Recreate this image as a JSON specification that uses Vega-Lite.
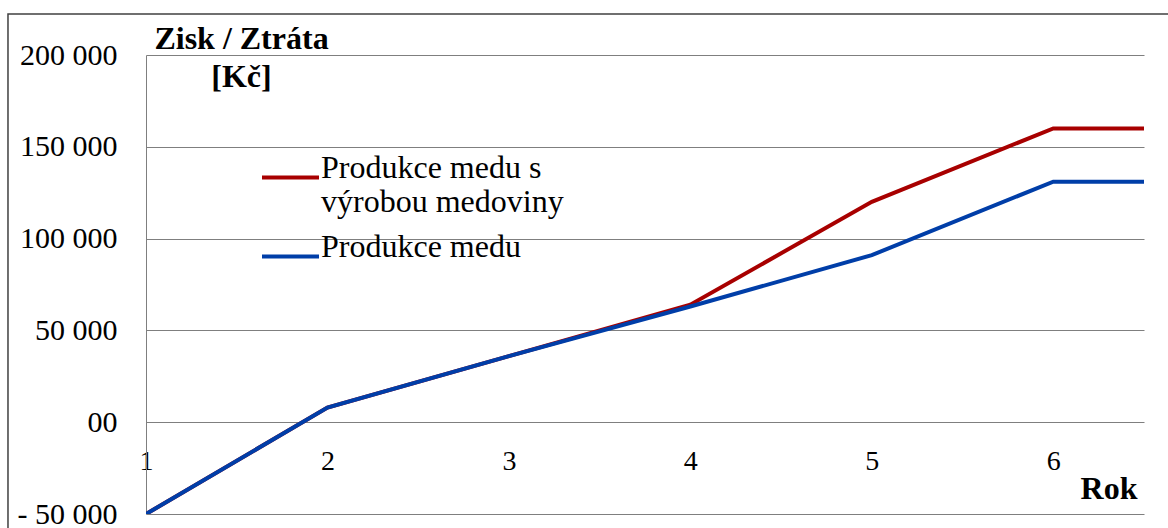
{
  "$schema": "https://vega.github.io/schema/vega-lite/v6.json",
  "width": 998,
  "height": 459,
  "autosize": {"type": "none"},
  "padding": {"left": 146, "top": 55, "right": 24, "bottom": 14},
  "background": "white",
  "config": {"view": {"stroke": null}, "font": "Liberation Serif"},
  "resolve": {"axis": {"x": "independent", "y": "independent"}},
  "layer": [
    {
      "data": {"values": [{"frame": "outer"}]},
      "mark": {"type": "rect", "fill": null, "stroke": "#404040", "strokeWidth": 1.5, "clip": false},
      "encoding": {
        "x": {"datum": 0.2394, "type": "quantitative", "axis": null},
        "x2": {"datum": 7.2},
        "y": {"datum": 222331, "type": "quantitative", "axis": null},
        "y2": {"datum": -80000}
      }
    },
    {
      "data": {
        "values": [
          {"rok": 1, "zisk": -50000, "serie": "Produkce medu s výrobou medoviny"},
          {"rok": 2, "zisk": 8000, "serie": "Produkce medu s výrobou medoviny"},
          {"rok": 3, "zisk": 36000, "serie": "Produkce medu s výrobou medoviny"},
          {"rok": 4, "zisk": 64000, "serie": "Produkce medu s výrobou medoviny"},
          {"rok": 5, "zisk": 120000, "serie": "Produkce medu s výrobou medoviny"},
          {"rok": 6, "zisk": 160000, "serie": "Produkce medu s výrobou medoviny"},
          {"rok": 6.5, "zisk": 160000, "serie": "Produkce medu s výrobou medoviny"},
          {"rok": 1, "zisk": -50000, "serie": "Produkce medu"},
          {"rok": 2, "zisk": 8000, "serie": "Produkce medu"},
          {"rok": 3, "zisk": 36000, "serie": "Produkce medu"},
          {"rok": 4, "zisk": 63000, "serie": "Produkce medu"},
          {"rok": 5, "zisk": 91000, "serie": "Produkce medu"},
          {"rok": 6, "zisk": 131000, "serie": "Produkce medu"},
          {"rok": 6.5, "zisk": 131000, "serie": "Produkce medu"}
        ]
      },
      "mark": {"type": "line", "strokeWidth": 4, "clip": true},
      "encoding": {
        "x": {
          "field": "rok",
          "type": "quantitative",
          "scale": {"domain": [1, 6.5], "nice": false, "zero": false},
          "axis": {
            "values": [1, 2, 3, 4, 5, 6],
            "offset": -92,
            "domain": false,
            "ticks": false,
            "tickSize": 0,
            "grid": false,
            "labelFont": "Liberation Serif",
            "labelFontSize": 28,
            "labelColor": "black",
            "labelBaseline": "alphabetic",
            "labelPadding": 47,
            "labelFlush": false,
            "labelOverlap": false,
            "title": "Rok",
            "titleFont": "Liberation Serif",
            "titleFontSize": 32,
            "titleFontWeight": "bold",
            "titleColor": "black",
            "titleAnchor": null,
            "titleAlign": "right",
            "titleBaseline": "alphabetic",
            "titleX": 991,
            "titleY": 76
          }
        },
        "y": {
          "field": "zisk",
          "type": "quantitative",
          "scale": {"domain": [-50000, 200000], "nice": false, "zero": false},
          "axis": {
            "values": [-50000, 0, 50000, 100000, 150000, 200000],
            "labelExpr": "datum.value == 0 ? '00' : (datum.value < 0 ? '- ' + replace(format(-datum.value, ','), ',', ' ') : replace(format(datum.value, ','), ',', ' '))",
            "domain": true,
            "domainColor": "#7f7f7f",
            "domainWidth": 1,
            "ticks": false,
            "tickSize": 0,
            "grid": true,
            "gridColor": "#7f7f7f",
            "gridWidth": 1,
            "gridOpacity": 1,
            "labelFont": "Liberation Serif",
            "labelFontSize": 30,
            "labelColor": "black",
            "labelPadding": 29,
            "labelBaseline": "middle",
            "labelFlush": false,
            "labelOverlap": false,
            "title": ["Zisk / Ztráta", "[Kč]"],
            "titleFont": "Liberation Serif",
            "titleFontSize": 32,
            "titleFontWeight": "bold",
            "titleColor": "black",
            "titleAngle": 0,
            "titleAnchor": null,
            "titleAlign": "center",
            "titleBaseline": "alphabetic",
            "titleLineHeight": 38,
            "titleX": 95,
            "titleY": -7
          }
        },
        "color": {
          "field": "serie",
          "type": "nominal",
          "scale": {
            "domain": ["Produkce medu s výrobou medoviny", "Produkce medu"],
            "range": ["#A80000", "#003EA8"]
          },
          "legend": {
            "orient": "none",
            "legendX": 114,
            "legendY": 92,
            "title": null,
            "symbolType": "stroke",
            "symbolSize": 3249,
            "symbolStrokeWidth": 4,
            "labelFont": "Liberation Serif",
            "labelFontSize": 32,
            "labelColor": "black",
            "labelLimit": 0,
            "labelOffset": 0,
            "labelBaseline": "alphabetic",
            "labelExpr": "datum.value == 'Produkce medu s výrobou medoviny' ? ['Produkce medu s', 'výrobou medoviny'] : datum.value",
            "rowPadding": 8
          }
        }
      }
    }
  ]
}
